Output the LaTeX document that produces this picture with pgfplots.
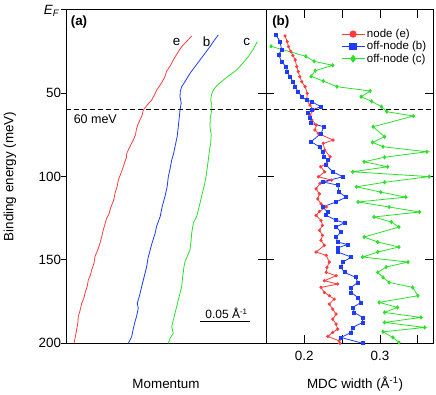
\documentclass[border=0pt]{standalone}
\usepackage{fontspec}
\setmainfont{Liberation Sans}
\usepackage{pgfplots}
\pgfplotsset{compat=1.18}

\definecolor{cred}{RGB}{255,60,60}
\definecolor{cblue}{RGB}{30,60,255}
\definecolor{cgreen}{RGB}{40,225,40}

\pgfplotsset{
  panel/.style={
    scale only axis, anchor=south west, height=333.7pt,
    y dir=reverse, ymin=0, ymax=200,
    axis line style={line width=0.9pt},
    every tick/.style={black, line width=0.9pt},
    /pgf/number format/assume math mode=true,
    tick label style={font=\fontsize{13.4}{16}\selectfont},
    label style={font=\fontsize{13.4}{16}\selectfont},
  },
  cut/.style={black, line width=0.9pt, dash pattern=on 5pt off 3pt},
}

\begin{document}
\begin{tikzpicture}
\path[use as bounding box] (0,0) rectangle (436pt,395pt);

% (a) dispersions
\begin{axis}[panel, at={(66pt,51.7pt)}, width=200pt,
  xmin=0, xmax=0.2, xtick=\empty,
  ytick={0,50,100,150,200},
  yticklabels={,50,100,150,200},
  yticklabel style={xshift=3.5pt},
  ytick pos=left, tick align=outside, major tick length=5pt,
  xlabel={Momentum}, ylabel={Binding energy (meV)},
  xlabel style={at={(axis description cs:0.5,-0.122)}, anchor=center},
  ylabel style={at={(axis description cs:-0.28,0.5)}, anchor=center},
]
\addplot[cred, line width=0.8pt] coordinates {
(0.1257,15.8) (0.1215,18.5) (0.1157,22.2) (0.1115,26) (0.1073,30.2) (0.1045,33.5)
(0.1005,37) (0.0990,40.2) (0.0955,44) (0.0907,48.2) (0.0885,51) (0.0857,54.2)
(0.0815,57) (0.0773,60.2) (0.0760,63.5) (0.0723,68.2) (0.0705,71.5) (0.0695,75)
(0.0673,78.2) (0.0640,82) (0.0607,86.2) (0.0605,88.5) (0.0590,91) (0.0573,94.2)
(0.0550,98) (0.0523,102.2) (0.0512,106) (0.0490,110) (0.0478,114) (0.0445,119)
(0.0430,122.5) (0.0407,125) (0.0388,129) (0.0373,132) (0.0358,136) (0.0340,140)
(0.0318,144) (0.0290,148) (0.0280,152) (0.0257,156) (0.0245,159) (0.0223,162)
(0.0212,166) (0.0190,170) (0.0178,173) (0.0157,176) (0.0142,180) (0.0123,184)
(0.0118,188) (0.0100,194) (0.0080,200)};
\addplot[cblue, line width=0.8pt] coordinates {
(0.1523,15.2) (0.1482,18.5) (0.1440,22.2) (0.1392,26) (0.1340,30.2) (0.1292,34)
(0.1240,38.2) (0.1202,42) (0.1157,46.2) (0.1143,49) (0.1140,52.2) (0.1152,56)
(0.1140,60.2) (0.1132,65) (0.1123,70.2) (0.1112,76) (0.1090,82.2) (0.1077,86)
(0.1057,90.2) (0.1042,95) (0.1023,100.2) (0.1012,106) (0.0990,112) (0.0962,118)
(0.0942,124) (0.0905,130) (0.0892,134) (0.0860,140) (0.0842,144) (0.0820,149)
(0.0807,154) (0.0782,160) (0.0757,166) (0.0737,171) (0.0713,176) (0.0723,179)
(0.0705,184) (0.0690,187) (0.0670,192) (0.0657,196) (0.0623,200)};
\addplot[cgreen, line width=0.8pt] coordinates {
(0.1913,19.2) (0.1870,24) (0.1823,28.2) (0.1770,32) (0.1707,36.2) (0.1620,40)
(0.1557,43) (0.1510,45.5) (0.1473,48.2) (0.1455,51) (0.1447,54.2) (0.1458,57)
(0.1457,60.2) (0.1443,65) (0.1440,70.2) (0.1452,75) (0.1447,80.2) (0.1433,85)
(0.1423,90.2) (0.1412,95) (0.1400,100.2) (0.1385,105) (0.1363,110) (0.1340,116)
(0.1307,124) (0.1273,128) (0.1257,134) (0.1250,139) (0.1240,144) (0.1190,151)
(0.1180,154) (0.1167,160) (0.1157,166) (0.1123,174) (0.1090,182) (0.1057,190)
(0.1073,194) (0.1040,197) (0.1023,200)};
\addplot[cut] coordinates {(0,60) (0.2,60)};
\node[font=\fontsize{13.4}{16}\selectfont\bfseries] at (axis cs:0.013,7.4) {(a)};
\node[font=\fontsize{13.4}{16}\selectfont] at (axis cs:0.1107,19.2) {e};
\node[font=\fontsize{13.4}{16}\selectfont] at (axis cs:0.1407,19.2) {b};
\node[font=\fontsize{13.4}{16}\selectfont] at (axis cs:0.1807,19.2) {c};
\node[font=\fontsize{12.5}{15}\selectfont] at (axis cs:0.0293,65.8) {60 meV};
\draw[black, line width=0.9pt] (axis cs:0.134,187.1) -- (axis cs:0.184,187.1);
\node[font=\fontsize{12}{14}\selectfont] at (axis cs:0.1605,182.3) {0.05 Å\textsuperscript{-1}};
\end{axis}
\node[font=\fontsize{13.4}{16}\selectfont] at (51.5pt,384pt) {\textit{E\textsubscript{F}}};

% inward ticks on the right edge of (a)
\begin{axis}[panel, at={(66pt,51.7pt)}, width=200pt,
  xmin=0, xmax=0.2, xtick=\empty, axis line style={draw=none},
  ytick={50,100,150}, yticklabels={}, ytick pos=right,
  tick align=inside, major tick length=8pt]
\end{axis}

% (b) MDC widths
\begin{axis}[panel, at={(266pt,51.7pt)}, width=167pt,
  xmin=0.1494, xmax=0.370,
  xtick={0.2,0.25,0.3,0.35}, xticklabels={0.2,,0.3,}, xtick pos=both,
  ytick={50,100,150}, yticklabels={}, ytick pos=both,
  tick align=inside, major tick length=8pt,
  xticklabel style={yshift=-4pt},
  xlabel={MDC width (Å\textsuperscript{-1})},
  xlabel style={at={(axis description cs:0.533,-0.122)}, anchor=center},
  legend style={at={(axis description cs:0.431,0.954)}, anchor=north west,
    draw=none, fill=none, font=\fontsize{11.5}{13}\selectfont,
    row sep=-1.5pt, cells={anchor=west}},
  legend image code/.code={\draw[mark repeat=2,mark phase=2,#1]
    plot coordinates {(0pt,0pt) (11.5pt,0pt) (23pt,0pt)};},
]
\addlegendimage{cred, line width=0.8pt, mark=*, mark size=3.2pt}
\addlegendentry{node (e)}
\addlegendimage{cblue, line width=0.8pt, mark=square*, mark size=3.2pt}
\addlegendentry{off-node (b)}
\addlegendimage{cgreen, line width=0.8pt, mark=diamond*, mark size=3.4pt}
\addlegendentry{off-node (c)}

\addplot[cgreen, line width=0.8pt, mark=diamond*, mark size=1.6pt, forget plot] coordinates {
(0.156,22.0) (0.202,28.0) (0.213,31.0) (0.2375,33.4) (0.2145,36.6) (0.209,40.0)
(0.225,42.8) (0.243,46.2) (0.287,48.8) (0.275,52.2) (0.289,55.0) (0.302,58.2)
(0.309,61.2) (0.344,63.8) (0.291,70.2) (0.306,76.2) (0.290,79.6) (0.304,82.2)
(0.362,85.2) (0.306,88.5) (0.279,91.2) (0.310,94.2) (0.264,97.2) (0.365,100.1)
(0.306,103.5) (0.269,106.2) (0.301,109.4) (0.334,112.4) (0.271,115.3) (0.312,118.3)
(0.352,121.3) (0.292,124.3) (0.315,127.3) (0.325,130.3) (0.279,136.3) (0.297,139.3)
(0.325,142.3) (0.297,145.3) (0.277,148.3) (0.337,151.3) (0.308,154.3) (0.297,157.5)
(0.304,160.5) (0.312,163.5) (0.343,166.5) (0.350,171.5) (0.299,175.5) (0.323,178.5)
(0.306,181.5) (0.354,184.5) (0.306,187.5) (0.359,190.5) (0.304,193.1) (0.317,196.5)
(0.325,199.5)};
\addplot[cred, line width=0.8pt, mark=*, mark size=1.2pt, forget plot] coordinates {
(0.1745,15.8) (0.1775,19.2) (0.1790,22.2) (0.1820,25.0) (0.1850,27.5) (0.1880,30.2)
(0.1900,34.2) (0.1920,37.2) (0.1940,40.2) (0.1966,43.2) (0.2010,46.2) (0.2040,50.2)
(0.2030,54.2) (0.2075,57.2) (0.2120,60.2) (0.2075,63.2) (0.2100,66.2) (0.2160,69.2)
(0.2140,72.2) (0.2185,74.2) (0.2380,78.2) (0.2250,80.2) (0.2270,84.2) (0.2340,88.2)
(0.2295,92.2) (0.2217,94.2) (0.2270,97.2) (0.2185,100.2) (0.2360,102.2) (0.2207,104.2)
(0.2155,107.4) (0.2200,110.4) (0.2177,113.4) (0.2220,116.4) (0.2290,118.3) (0.2200,121.0)
(0.2155,123.3) (0.2220,126.3) (0.2240,129.3) (0.2200,132.3) (0.2240,135.3) (0.2220,138.3)
(0.2265,141.3) (0.2155,145.3) (0.2290,147.3) (0.2330,151.3) (0.2300,154.5) (0.2290,157.5)
(0.2420,159.5) (0.2265,162.5) (0.2440,164.5) (0.2220,166.5) (0.2265,169.5) (0.2330,171.5)
(0.2395,173.5) (0.2330,176.5) (0.2375,179.5) (0.2420,182.5) (0.2375,185.5) (0.2420,188.5)
(0.2440,191.5) (0.2375,193.5) (0.2310,195.9) (0.2460,198.5) (0.2470,200)};
\addplot[cblue, line width=0.8pt, mark=square*, mark size=1.5pt, forget plot] coordinates {
(0.1630,15.4) (0.1680,19.2) (0.1700,24.2) (0.1660,27.0) (0.1700,31.2) (0.1760,34.2)
(0.1775,37.2) (0.1810,40.2) (0.1850,43.2) (0.1880,46.2) (0.1920,49.2) (0.1966,52.2)
(0.2030,54.2) (0.2100,55.2) (0.2217,58.2) (0.2100,60.2) (0.2050,62.2) (0.2075,65.2)
(0.2085,68.2) (0.2260,70.2) (0.2220,74.2) (0.2090,79.2) (0.2200,82.2) (0.2240,85.2)
(0.2260,88.2) (0.2310,90.2) (0.2290,93.2) (0.2375,97.2) (0.2510,100.2) (0.2240,103.2)
(0.2440,105.2) (0.2460,109.4) (0.2550,112.4) (0.2420,115.3) (0.2240,118.3) (0.2310,121.3)
(0.2290,123.3) (0.2420,126.3) (0.2530,127.8) (0.2420,130.3) (0.2485,133.3) (0.2420,136.3)
(0.2440,139.3) (0.2570,140.8) (0.2440,142.8) (0.2440,145.3) (0.2620,148.3) (0.2510,151.3)
(0.2485,154.5) (0.2530,157.5) (0.2680,160.5) (0.2705,163.5) (0.2620,166.5) (0.2620,169.5)
(0.2705,172.5) (0.2750,175.5) (0.2640,178.5) (0.2660,181.5) (0.2770,184.5) (0.2770,187.5)
(0.2640,190.5) (0.2620,193.5) (0.2485,196.5) (0.2770,200)};
\addplot[cut, forget plot] coordinates {(0.1494,60) (0.370,60)};
\node[font=\fontsize{13.4}{16}\selectfont\bfseries] at (axis cs:0.169,7.4) {(b)};
\end{axis}
\end{tikzpicture}
\end{document}
